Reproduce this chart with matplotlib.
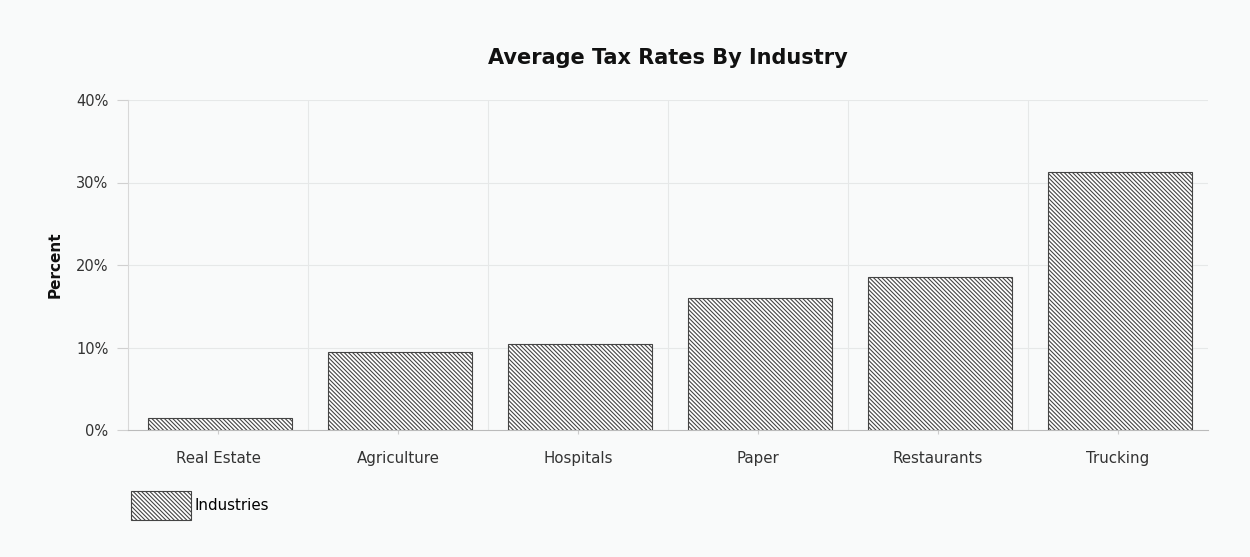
import matplotlib
matplotlib.use("Agg")
import matplotlib.pyplot as plt
from matplotlib.patches import Patch

categories = ["Real Estate", "Agriculture", "Hospitals", "Paper", "Restaurants", "Trucking"]
values = [1.4, 9.5, 10.4, 16.0, 18.5, 31.3]
yticks = [0, 10, 20, 30, 40]
ytick_labels = ["0%", "10%", "20%", "30%", "40%"]
series_name = "Industries"

plt.rcParams["font.family"] = ["DejaVu Sans"]
bg = "#f9fafa"
plt.rcParams["hatch.linewidth"] = 0.8
plt.rcParams["hatch.color"] = "#333333"
HATCH = "\\" * 8

fig = plt.figure(figsize=(12.5, 5.57), dpi=100, facecolor=bg)
ax = fig.add_axes([128/1250, 1 - 430/557, 1080/1250, 330/557])
ax.set_facecolor(bg)

x = list(range(len(categories)))
ax.bar([i + 0.01 for i in x], values, width=0.8, color="white", edgecolor="#444444", linewidth=0.8,
       hatch=HATCH, zorder=3)

ax.set_xlim(-0.5, len(categories) - 0.5)
ax.set_ylim(0, 40)
ax.set_yticks(yticks)
ax.set_yticklabels(ytick_labels)
ax.set_xticks(x)
ax.set_xticklabels(categories)

for b in [i + 0.5 for i in range(len(categories) - 1)]:
    ax.axvline(b, color="#e6e8e8", lw=0.8, zorder=1)
for t in yticks[1:]:
    ax.axhline(t, color="#e6e8e8", lw=0.8, zorder=1)

for s in ["top", "right"]:
    ax.spines[s].set_visible(False)
ax.spines["left"].set_color("#d8d8d8")
ax.spines["bottom"].set_color("#bbbbbb")
ax.tick_params(axis="y", colors="#d0d0d0", labelcolor="#333333", labelsize=10.5, length=8, pad=6)
ax.tick_params(axis="x", colors="#cccccc", labelcolor="#333333", labelsize=10.8, length=3, pad=12)

ax.set_ylabel("Percent", fontsize=11, fontweight="bold", color="#111111", labelpad=10)
fig.text(668/1250, 1 - 58/557, "Average Tax Rates By Industry", ha="center", va="center",
         fontsize=15, fontweight="bold", color="#111111")

handle = Patch(facecolor="white", edgecolor="#444444", hatch=HATCH, linewidth=0.8)
fig.legend([handle], [series_name], loc="upper left", bbox_to_anchor=(117/1250, 1 - 478/557),
           frameon=False, handlelength=4.0, handleheight=2.5, fontsize=10.8, handletextpad=0.3)

fig.savefig("out.png", dpi=100, facecolor=bg)
